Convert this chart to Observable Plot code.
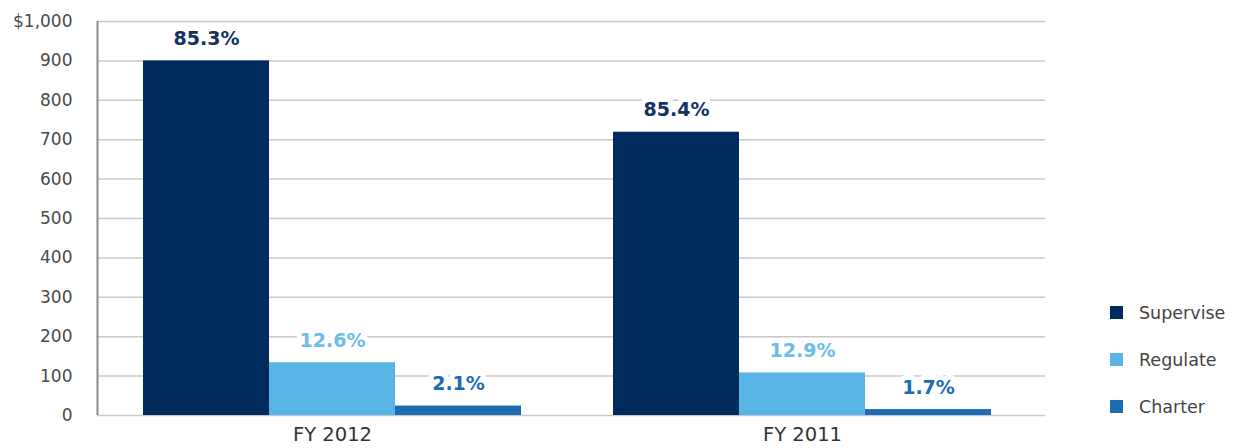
<!DOCTYPE html>
<html>
<head>
<meta charset="utf-8">
<script src="https://cdn.jsdelivr.net/npm/d3@7"></script>
<script src="https://cdn.jsdelivr.net/npm/@observablehq/plot@0.6"></script>
<style>
  html, body { margin: 0; padding: 0; background: #fff; }
  #wrap { position: relative; width: 1238px; height: 448px; font-family: "DejaVu Sans", sans-serif; }
  #wrap svg { position: absolute; left: 0; top: 0; }
  #legend { position: absolute; left: 1110px; top: 289px; }
  .sw { display: flex; align-items: center; height: 47px; font-size: 17.5px; color: #444; }
  .sw span.box { width: 13px; height: 13px; margin-right: 16px; display: inline-block; }
</style>
</head>
<body>
<div id="wrap"><div id="legend"></div></div>
<script>
const years = ["FY 2012", "FY 2011"];
const categories = ["Supervise", "Regulate", "Charter"];
const supervise = [900, 719];
const regulate = [134, 108];
const charter = [24, 15];
const superviseShare = ["85.3%", "85.4%"];
const regulateShare = ["12.6%", "12.9%"];
const charterShare = ["2.1%", "1.7%"];
const yTicks = [0, 100, 200, 300, 400, 500, 600, 700, 800, 900, 1000];
const colors = ["#002b5c", "#58b5e6", "#1c6cb4"];
const labelColors = ["#14315f", "#6dbde9", "#1c6cb4"];

const seriesValues = [supervise, regulate, charter];
const seriesShares = [superviseShare, regulateShare, charterShare];
const data = [];
years.forEach((yr, i) => categories.forEach((c, j) => data.push({year: yr, cat: c, value: seriesValues[j][i], share: seriesShares[j][i]})));

const common = {
  width: 1238,
  height: 448,
  marginLeft: 97,
  marginRight: 193,
  marginTop: 21,
  marginBottom: 33
};
const font = {fontFamily: "DejaVu Sans, sans-serif", fontSize: "17px", color: "#4a4a4a"};

// Background layer: y axis, grid, axis line
const back = Plot.plot({
  ...common,
  style: {...font, background: "#fff"},
  x: {domain: [0, 1], axis: null},
  y: {domain: [0, 1000], ticks: yTicks, tickSize: 0, tickPadding: 25, label: null,
      tickFormat: d => d === 1000 ? "$1,000" : d3.format(",")(d)},
  marks: [
    Plot.ruleY(yTicks, {y: d => d, stroke: "#c8c8c8", strokeWidth: 1.5}),
    Plot.ruleX([0], {stroke: "#8a8a8a", strokeWidth: 2})
  ]
});

// Foreground layer: grouped bars
const front = Plot.plot({
  ...common,
  style: {...font, fontSize: "19.5px", background: "transparent", color: "#333", overflow: "visible"},
  fx: {domain: years, paddingInner: 0.195, paddingOuter: 0.104, align: 0.46, label: null, axis: "bottom", tickSize: 0, tickPadding: 12},
  x: {domain: categories, padding: 0, axis: null},
  y: {domain: [0, 1000], axis: null},
  color: {domain: categories, range: colors},
  marks: [
    Plot.barY(data, {fx: "year", x: "cat", y: "value", fill: "cat"}),
    Plot.text(data, {fx: "year", x: "cat", y: "value", text: "share", dy: -16, lineAnchor: "bottom",
      fill: d => labelColors[categories.indexOf(d.cat)], stroke: "white", strokeWidth: 10,
      fontWeight: "bold", fontSize: 19})
  ]
});

const wrap = document.getElementById("wrap");
wrap.prepend(front);
wrap.prepend(back);

const legend = document.getElementById("legend");
categories.forEach((c, j) => {
  const row = document.createElement("div");
  row.className = "sw";
  row.innerHTML = `<span class="box" style="background:${colors[j]}"></span>${c}`;
  legend.appendChild(row);
});
</script>
</body>
</html>
